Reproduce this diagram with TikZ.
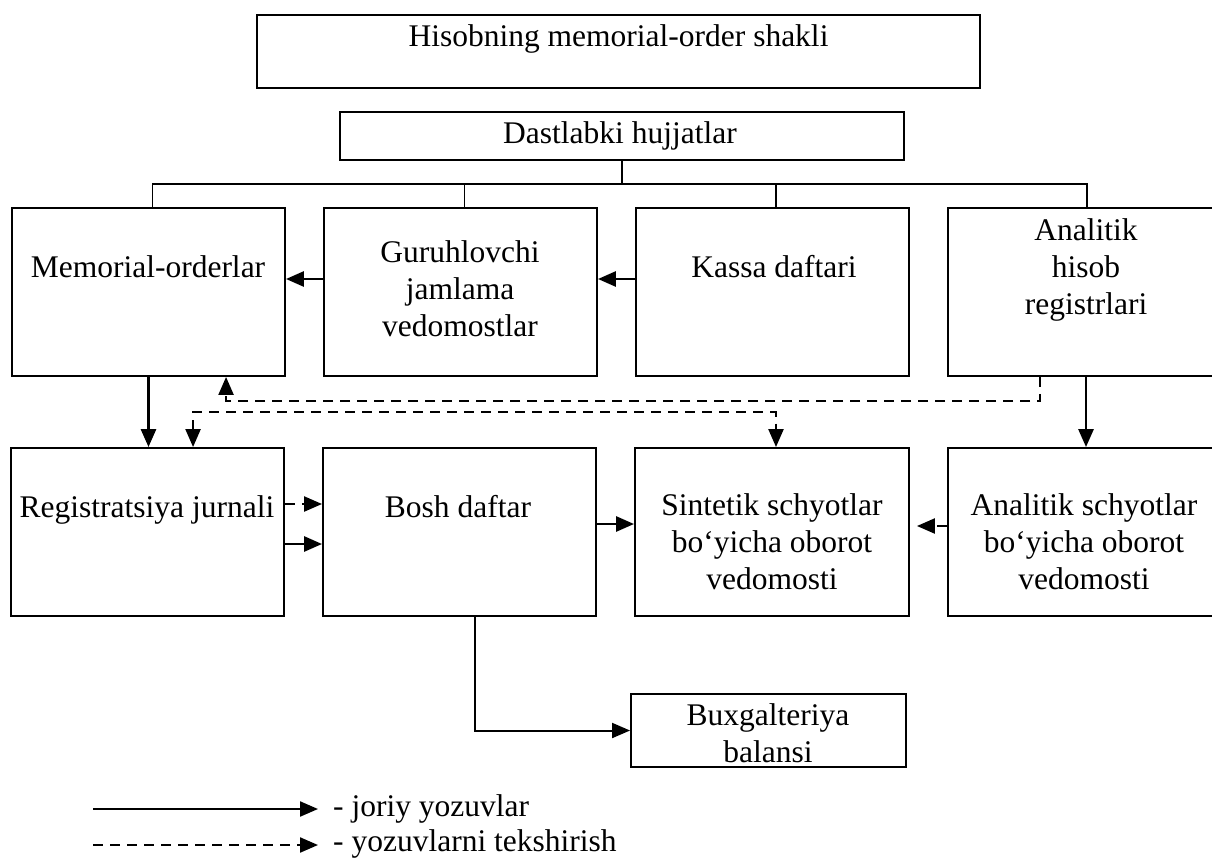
\documentclass[tikz,border=0pt]{standalone}
\usepackage{fontspec}
\setmainfont{Liberation Serif}
\usetikzlibrary{arrows.meta}

\begin{document}
\begin{tikzpicture}[x=1pt,y=-1pt,
  boxw/.style={draw, line width=1.9pt, inner sep=0pt},
  lbl/.style={font=\fontsize{31.5}{37}\selectfont, align=center, inner sep=0pt},
  wire/.style={line width=1.9pt},
  flow/.style={line width=2.8pt, -{Triangle[length=18pt,width=15pt]}},
  check/.style={line width=2.3pt, dash pattern=on 10pt off 7pt, -{Triangle[length=18pt,width=15pt]}},
  checkboth/.style={line width=2.3pt, dash pattern=on 10pt off 7pt, {Triangle[length=18pt,width=15pt]}-{Triangle[length=18pt,width=15pt]}}]

\useasboundingbox (0,0) rectangle (1212,859);
\clip (0,0) rectangle (1212,859);

% header boxes
\node[boxw, minimum width=723pt, minimum height=73pt] (top) at (618.5,51.5) {};
\node[lbl, anchor=base] (topt) at (618.5,47) {Hisobning memorial-order shakli};
\node[boxw, minimum width=564pt, minimum height=48pt] (dast) at (622,136) {};
\node[lbl, anchor=base] (dastt) at (620,143) {Dastlabki hujjatlar};

% first row
\node[boxw, minimum width=273pt, minimum height=168pt] (mo)  at (148.5,292) {};
\node[boxw, minimum width=273pt, minimum height=168pt] (gur) at (460.5,292) {};
\node[boxw, minimum width=273pt, minimum height=168pt] (kas) at (772.5,292) {};
\node[boxw, minimum width=276pt, minimum height=168pt] (anh) at (1086,292) {};
\node[lbl, anchor=base] (mot) at (148,277) {Memorial-orderlar};
\node[lbl, anchor=north] (gurt) at (460,240.5) {Guruhlovchi\\jamlama\\vedomostlar};
\node[lbl, anchor=base] (kast) at (774,277) {Kassa daftari};
\node[lbl, anchor=north] (anht) at (1086,218) {Analitik\\hisob\\registrlari};

% second row
\node[boxw, minimum width=273pt, minimum height=168pt] (reg)   at (147.5,532) {};
\node[boxw, minimum width=273pt, minimum height=168pt] (bosh)  at (459.5,532) {};
\node[boxw, minimum width=274pt, minimum height=168pt] (sint)  at (772,532) {};
\node[boxw, minimum width=276pt, minimum height=168pt] (ansch) at (1086,532) {};
\node[lbl, anchor=base] (regt) at (147,517) {Registratsiya jurnali};
\node[lbl, anchor=base] (bosht) at (458,517) {Bosh daftar};
\node[lbl, anchor=north] (sintt) at (772,493.5) {Sintetik schyotlar\\bo‘yicha oborot\\vedomosti};
\node[lbl, anchor=north] (ful) at (1084,493.5) {Analitik schyotlar\\bo‘yicha oborot\\vedomosti};

% balance
\node[boxw, minimum width=275pt, minimum height=73pt] (bux) at (768.5,730.5) {};
\node[lbl, anchor=north] (buxt) at (768,703.5) {Buxgalteriya\\balansi};

% distribution lines from primary documents
\draw[wire] (dast.south) -- ++(0,23) coordinate (bus);
\draw[wire] ([xshift=4pt]mo.north) |- (bus) -| ([xshift=1pt]anh.north);
\draw[wire] ([xshift=4pt]gur.north) -- ([xshift=4pt]gur.north |- bus);
\draw[wire] ([xshift=3.5pt]kas.north) -- ([xshift=3.5pt]kas.north |- bus);

% current entries
\draw[flow] ([yshift=13pt]kas.west) -- ([yshift=13pt]gur.east);
\draw[flow] ([yshift=13pt]gur.west) -- ([yshift=13pt]mo.east);
\draw[flow] (mo.south) -- (mo.south |- reg.north);
\draw[flow] (anh.south) -- (ansch.north);
\draw[flow] ([yshift=-12pt]reg.east) -- ([yshift=-12pt]bosh.west);
\draw[flow] ([yshift=8pt]bosh.east) -- ([yshift=8pt]sint.west);
\draw[line width=2pt, -{Triangle[length=18pt,width=15pt]}] ([xshift=15.5pt]bosh.south) |- (bux.west);

% checking entries
\draw[check] ([xshift=93pt]anh.south west) -- ++(0,24) -| ([xshift=215pt]mo.south west);
\draw[checkboth] ([xshift=183pt]reg.north west) -- ++(0,-35) -| ([xshift=4pt]sint.north);
\draw[check] ([yshift=28pt]reg.east) -- ([yshift=28pt]bosh.west);
\draw[check] ([yshift=6pt]ansch.west) -- ([yshift=6pt,xshift=7pt]sint.east);

% legend
\coordinate (l1a) at (93,809);
\coordinate (l1b) at (318,809);
\coordinate (l2a) at (93,845);
\coordinate (l2b) at (318,845);
\draw[flow, line width=2.2pt] (l1a) -- (l1b);
\draw[check, line width=2.2pt] (l2a) -- (l2b);
\node[lbl, anchor=base west] (lg1) at (333,816) {- joriy yozuvlar};
\node[lbl, anchor=base west] (lg2) at (333,851) {- yozuvlarni tekshirish};

\end{tikzpicture}
\end{document}
